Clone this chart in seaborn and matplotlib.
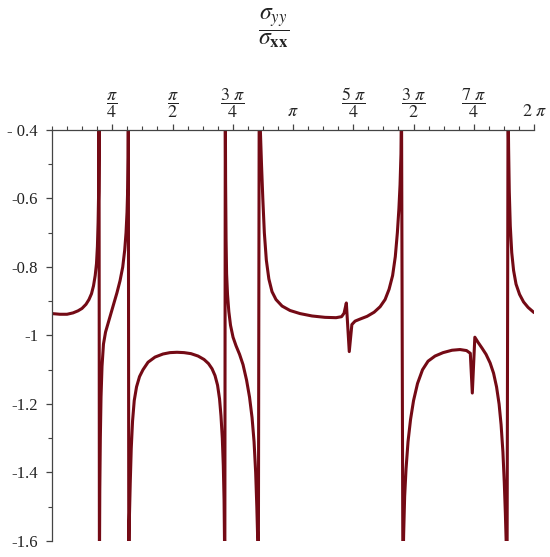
import numpy as np
import pandas as pd
import matplotlib
matplotlib.use("Agg")
import matplotlib.pyplot as plt
import seaborn as sns
from matplotlib.ticker import FixedLocator, FixedFormatter, MultipleLocator

# ---- data (theta in radians, ratio sigma_yy/sigma_xx) ----
theta_b1 = [0.000, 0.104, 0.196, 0.274, 0.339, 0.391, 0.443, 0.482, 0.515, 0.541, 0.563, 0.580,
            0.592, 0.601, 0.608, 0.612, 0.613]
ratio_b1 = [-0.936, -0.938, -0.938, -0.934, -0.928, -0.921, -0.909, -0.895, -0.878, -0.855, -0.825, -0.79,
            -0.74, -0.67, -0.58, -0.45, -0.30]

theta_b2 = [0.618, 0.623, 0.630, 0.639, 0.652, 0.671, 0.698, 0.730, 0.769, 0.808, 0.847, 0.887,
            0.922, 0.948, 0.965, 0.978, 0.987, 0.992, 0.995]
ratio_b2 = [-1.70, -1.45, -1.30, -1.18, -1.09, -1.025, -0.99, -0.965, -0.935, -0.905, -0.875, -0.84,
            -0.80, -0.75, -0.70, -0.64, -0.57, -0.48, -0.30]

theta_b3 = [1.001, 1.007, 1.020, 1.033, 1.050, 1.072, 1.102, 1.141, 1.186, 1.252, 1.343, 1.447,
            1.538, 1.630, 1.721, 1.812, 1.904, 1.982, 2.040, 2.086, 2.125, 2.158, 2.184, 2.203,
            2.220, 2.233, 2.243, 2.249, 2.253]
ratio_b3 = [-1.70, -1.55, -1.43, -1.33, -1.25, -1.19, -1.15, -1.12, -1.10, -1.078, -1.063, -1.054,
            -1.050, -1.049, -1.050, -1.053, -1.060, -1.070, -1.082, -1.097, -1.117, -1.145, -1.185, -1.235,
            -1.30, -1.38, -1.48, -1.60, -1.70]

theta_b4 = [2.259, 2.263, 2.269, 2.276, 2.288, 2.305, 2.327, 2.360, 2.399, 2.445, 2.490, 2.536,
            2.575, 2.608, 2.634, 2.655, 2.670, 2.682, 2.690]
ratio_b4 = [-0.30, -0.55, -0.72, -0.82, -0.88, -0.93, -0.97, -1.005, -1.03, -1.055, -1.085, -1.13,
            -1.18, -1.24, -1.31, -1.40, -1.50, -1.60, -1.70]

theta_b5 = [2.701, 2.716, 2.731, 2.748, 2.768, 2.794, 2.827, 2.868, 2.920, 2.999, 3.103, 3.233,
            3.390, 3.559, 3.703, 3.775, 3.807, 3.837, 3.875, 3.909, 3.951, 4.016, 4.108, 4.199,
            4.277, 4.342, 4.394, 4.440, 4.475, 4.502, 4.522, 4.537, 4.549, 4.556]
ratio_b5 = [-0.30, -0.40, -0.50, -0.60, -0.70, -0.78, -0.835, -0.872, -0.895, -0.914, -0.927, -0.936,
            -0.943, -0.947, -0.948, -0.945, -0.935, -0.905, -1.047, -0.968, -0.958, -0.952, -0.944, -0.932,
            -0.916, -0.895, -0.865, -0.825, -0.77, -0.70, -0.63, -0.56, -0.47, -0.30]

theta_b6 = [4.574, 4.584, 4.597, 4.615, 4.641, 4.674, 4.713, 4.765, 4.830, 4.902, 4.993, 5.098,
            5.215, 5.319, 5.404, 5.453, 5.479, 5.512, 5.554, 5.606, 5.658, 5.711, 5.756, 5.795,
            5.828, 5.854, 5.878, 5.896, 5.910, 5.923, 5.932]
ratio_b6 = [-1.70, -1.58, -1.47, -1.39, -1.31, -1.245, -1.19, -1.14, -1.10, -1.075, -1.06, -1.05,
            -1.043, -1.041, -1.044, -1.052, -1.168, -1.005, -1.02, -1.037, -1.055, -1.08, -1.11, -1.15,
            -1.20, -1.26, -1.34, -1.43, -1.52, -1.62, -1.70]

theta_b7 = [5.945, 5.952, 5.961, 5.974, 5.993, 6.017, 6.049, 6.095, 6.147, 6.206, 6.283]
ratio_b7 = [-0.30, -0.45, -0.58, -0.68, -0.758, -0.81, -0.85, -0.88, -0.902, -0.918, -0.933]

x_tick_values = [np.pi / 4, np.pi / 2, 3 * np.pi / 4, np.pi, 5 * np.pi / 4, 3 * np.pi / 2, 7 * np.pi / 4, 2 * np.pi]
x_tick_labels = [r'$\dfrac{\pi}{4}$', r'$\dfrac{\pi}{2}$', r'$\dfrac{3\ \pi}{4}$', r'$\pi$',
                 r'$\dfrac{5\ \pi}{4}$', r'$\dfrac{3\ \pi}{2}$', r'$\dfrac{7\ \pi}{4}$', r'$2\ \pi$']
y_tick_values = [-0.4, -0.6, -0.8, -1.0, -1.2, -1.4, -1.6]
y_tick_labels = ['- 0.4', '-0.6', '-0.8', '-1', '-1.2', '-1.4', '-1.6']
title_text = r'$\dfrac{\sigma_{yy}}{\sigma_{\mathbf{xx}}}$'

# ---- build table ----
thetas = theta_b1 + theta_b2 + theta_b3 + theta_b4 + theta_b5 + theta_b6 + theta_b7
ratios = ratio_b1 + ratio_b2 + ratio_b3 + ratio_b4 + ratio_b5 + ratio_b6 + ratio_b7
df = pd.DataFrame({"theta": thetas, "ratio": ratios})

sns.set_style("white")
plt.rcParams['font.family'] = ['Liberation Serif', 'DejaVu Serif']
plt.rcParams['mathtext.fontset'] = 'stix'

fig = plt.figure(figsize=(5.5, 5.57), dpi=100)
ax = fig.add_axes([52 / 550, 16 / 557, 482 / 550, 411 / 557])

sns.lineplot(data=df, x="theta", y="ratio", ax=ax, sort=False, estimator=None,
             color="#740a15", linewidth=2.2)

ax.set_xlim(0, 2 * np.pi)
ax.set_ylim(-1.6, -0.4)
ax.set_xlabel("")
ax.set_ylabel("")

for s in ["right", "bottom"]:
    ax.spines[s].set_visible(False)
for s in ["left", "top"]:
    ax.spines[s].set_color("#444444")
    ax.spines[s].set_linewidth(0.9)

ax.xaxis.tick_top()
ax.xaxis.set_major_locator(FixedLocator(x_tick_values))
ax.xaxis.set_major_formatter(FixedFormatter(x_tick_labels))
ax.xaxis.set_minor_locator(MultipleLocator(np.pi / 16))
ax.yaxis.set_major_locator(FixedLocator(y_tick_values))
ax.yaxis.set_major_formatter(FixedFormatter(y_tick_labels))
ax.yaxis.set_minor_locator(MultipleLocator(0.1))

ax.tick_params(axis="both", which="major", direction="out", length=4, width=0.9,
               color="#444444", labelsize=12, labelcolor="#222222")
ax.tick_params(axis="both", which="minor", direction="out", length=3, width=0.8, color="#444444")
ax.tick_params(axis="x", which="both", top=True, bottom=False, pad=3)
ax.tick_params(axis="x", which="major", labelsize=13)
ax.tick_params(axis="y", which="both", left=True, right=False, pad=6)

fig.text(0.497, 1 - 28 / 557, title_text, ha="center", va="center", fontsize=17, color="#222222")

fig.savefig("out.png", dpi=100)
